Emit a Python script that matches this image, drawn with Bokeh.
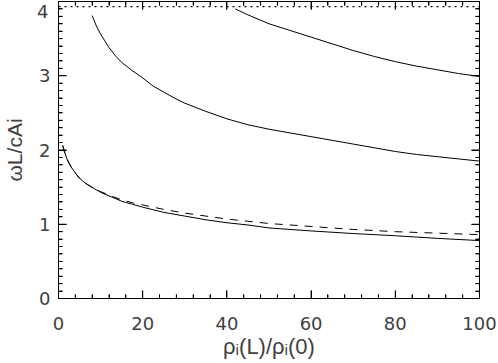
from bokeh.plotting import figure
from bokeh.models import Range1d, LinearAxis, SingleIntervalTicker, FixedTicker
from bokeh.embed import file_html
from bokeh.resources import INLINE

# ---- data ----
low_x = [1, 1.5, 2, 3, 4, 5, 6, 7, 8.5, 10, 12.5, 15, 17.5, 20, 25, 30, 35, 40, 45, 50, 60, 70, 80, 90, 100]
low_y = [2.06, 1.96, 1.88, 1.77, 1.69, 1.62, 1.57, 1.53, 1.48, 1.43, 1.37, 1.31, 1.27, 1.23, 1.16, 1.11,
         1.06, 1.02, 0.99, 0.95, 0.91, 0.875, 0.845, 0.81, 0.78]

dash_x = [1, 1.5, 2, 3, 4, 5, 6, 7, 8.5, 10, 12.5, 15, 17.5, 20, 25, 30, 35, 40, 45, 50, 60, 70, 80, 90, 100]
dash_y = [2.06, 1.96, 1.88, 1.77, 1.69, 1.62, 1.57, 1.53, 1.48, 1.44, 1.38, 1.33, 1.29, 1.26, 1.20, 1.15,
          1.11, 1.07, 1.04, 1.01, 0.97, 0.93, 0.90, 0.88, 0.86]

mid_x = [8, 9, 10, 11, 12, 13.5, 15, 17.5, 20, 22.5, 25, 27.5, 30, 35, 40, 45, 50, 55, 60, 65, 70, 75, 80,
         85, 90, 95, 100]
mid_y = [3.81, 3.67, 3.56, 3.47, 3.38, 3.27, 3.18, 3.07, 2.97, 2.86, 2.78, 2.70, 2.63, 2.52, 2.42, 2.34,
         2.28, 2.23, 2.18, 2.13, 2.08, 2.03, 1.98, 1.94, 1.91, 1.88, 1.85]

up_x = [42, 45, 50, 55, 60, 65, 70, 75, 80, 85, 90, 95, 100]
up_y = [3.90, 3.82, 3.70, 3.61, 3.52, 3.43, 3.34, 3.26, 3.19, 3.13, 3.08, 3.03, 2.99]

limit_x = [0, 100]
limit_y = [3.93, 3.93]

x_ticks = [0, 20, 40, 60, 80, 100]
y_ticks = [0, 1, 2, 3, 4]
top_label_pos = 3.87   # where the "4" label sits (pushed down inside the window)

x_title = "ρᵢ(L)/ρᵢ(0)"
y_title = "ωL/cAi"

# ---- layout / style ----
W, H = 498, 363
BL, BR, BT, BB = 58, 19, 1, 65
X0, X1, Y0, Y1 = 0, 100, 0, 4
X_MINOR = 4     # minor ticks between x majors -> every 5
Y_MINOR = 10    # minor intervals between y majors -> every 0.1
MAJ_PX, MIN_PX = 8, 4

TXT = "#404040"
FONT = "Liberation Sans"
TICKFONT = "DejaVu Sans"

p = figure(width=W, height=H, output_backend="svg", toolbar_location=None,
           x_range=Range1d(X0, X1), y_range=Range1d(Y0, Y1),
           x_axis_location=None, y_axis_location=None,
           min_border_left=BL, min_border_right=BR, min_border_top=BT, min_border_bottom=BB)
p.grid.visible = False
p.outline_line_color = "black"
p.background_fill_color = "white"
p.border_fill_color = "white"

def make_axis(step, minor, ticks, labels):
    ax = LinearAxis(ticker=SingleIntervalTicker(interval=step, num_minor_ticks=minor))
    ax.axis_line_color = "black"
    ax.major_tick_line_color = "black"
    ax.minor_tick_line_color = "black"
    ax.major_tick_in = MAJ_PX
    ax.major_tick_out = 0
    ax.minor_tick_in = MIN_PX
    ax.minor_tick_out = 0
    ax.major_label_text_font = TICKFONT
    ax.major_label_text_font_size = "18px"
    ax.major_label_text_color = TXT
    ax.axis_label_text_font = FONT
    ax.axis_label_text_font_style = "normal"
    ax.axis_label_text_color = TXT
    ax.axis_label_text_font_size = "22px"
    if not labels:
        ax.major_label_overrides = {t: "" for t in ticks}
        ax.major_label_standoff = 0
    return ax

bx = make_axis(20, X_MINOR + 1, x_ticks, True)
bx.major_label_standoff = 18
bx.axis_label = x_title
bx.axis_label_standoff = 1

lx = make_axis(1, Y_MINOR, y_ticks, True)
lx.major_label_standoff = 8
lx.major_label_overrides = {4: ""}

# outer left axis: carries the shifted "4" label and the y title
lx2 = LinearAxis(ticker=FixedTicker(ticks=[top_label_pos], minor_ticks=[]))
lx2.axis_line_color = None
lx2.major_tick_line_color = None
lx2.minor_tick_line_color = None
lx2.major_tick_in = 0
lx2.major_tick_out = 0
lx2.major_label_overrides = {top_label_pos: "4"}
lx2.major_label_standoff = -12
lx2.major_label_text_font = TICKFONT
lx2.major_label_text_font_size = "18px"
lx2.major_label_text_color = TXT
lx2.axis_label = y_title
lx2.axis_label_standoff = 8
lx2.axis_label_text_font = FONT
lx2.axis_label_text_font_style = "normal"
lx2.axis_label_text_color = TXT
lx2.axis_label_text_font_size = "21px"

tx = make_axis(20, X_MINOR + 1, x_ticks, False)
rx = make_axis(1, Y_MINOR, y_ticks, False)
p.add_layout(bx, "below")
p.add_layout(lx, "left")
p.add_layout(lx2, "left")
p.add_layout(tx, "above")
p.add_layout(rx, "right")

# inward tick marks on all four frame edges, as short segments
px_x = (W - BL - BR) / (X1 - X0)   # pixels per x unit
px_y = (H - BT - BB) / (Y1 - Y0)   # pixels per y unit

xs_major = list(x_ticks)
xs_minor = []
for a, b in zip(x_ticks[:-1], x_ticks[1:]):
    for k in range(1, X_MINOR + 1):
        xs_minor.append(a + (b - a) * k / (X_MINOR + 1))
ys_major = list(y_ticks)
ys_minor = []
for a, b in zip(y_ticks[:-1], y_ticks[1:]):
    for k in range(1, Y_MINOR):
        ys_minor.append(a + (b - a) * k / Y_MINOR)

for xs, L in ((xs_major, MAJ_PX), (xs_minor, MIN_PX)):
    dyl = L / px_y
    p.segment(x0=xs + xs, y0=[Y0] * len(xs) + [Y1] * len(xs),
              x1=xs + xs, y1=[Y0 + dyl] * len(xs) + [Y1 - dyl] * len(xs),
              line_color="black", line_width=1)
for ys, L in ((ys_major, MAJ_PX), (ys_minor, MIN_PX)):
    dxl = L / px_x
    p.segment(x0=[X0] * len(ys) + [X1] * len(ys), y0=ys + ys,
              x1=[X0 + dxl] * len(ys) + [X1 - dxl] * len(ys), y1=ys + ys,
              line_color="black", line_width=1)

p.line(limit_x, limit_y, line_color="black", line_width=1.3, line_dash="2 4")
p.line(dash_x, dash_y, line_color="black", line_width=1, line_dash="8 7")
p.line(low_x, low_y, line_color="black", line_width=1)
p.line(mid_x, mid_y, line_color="black", line_width=1)
p.line(up_x, up_y, line_color="black", line_width=1)

open("out.html", "w").write(file_html(p, INLINE))
